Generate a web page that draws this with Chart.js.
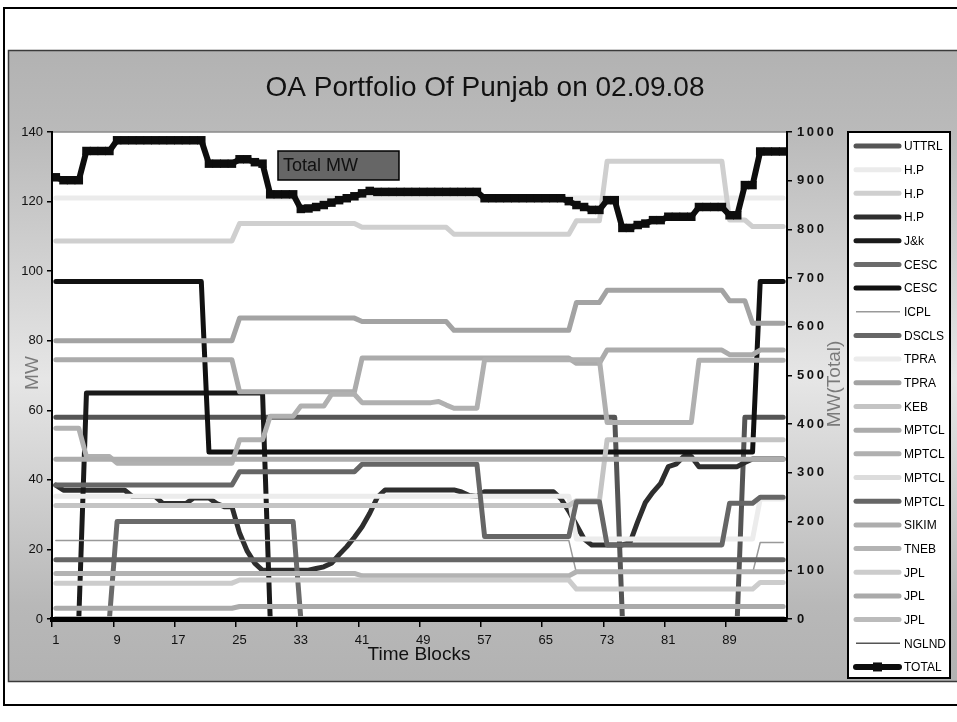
<!DOCTYPE html>
<html>
<head>
<meta charset="utf-8">
<title>OA Portfolio Of Punjab on 02.09.08</title>
<script src="https://cdn.jsdelivr.net/npm/chart.js@4.4.1/dist/chart.umd.min.js"></script>
<style>
  html, body { margin: 0; padding: 0; background: #fff; }
  canvas { display: block; }
</style>
</head>
<body>
<canvas id="grafico" width="957" height="722"></canvas>
<script>
// --- DADOS ---
const titulo = "OA Portfolio Of Punjab on 02.09.08";

const blocos = [
  1,2,3,4,5,6,7,8,9,10,11,12,
  13,14,15,16,17,18,19,20,21,22,23,24,
  25,26,27,28,29,30,31,32,33,34,35,36,
  37,38,39,40,41,42,43,44,45,46,47,48,
  49,50,51,52,53,54,55,56,57,58,59,60,
  61,62,63,64,65,66,67,68,69,70,71,72,
  73,74,75,76,77,78,79,80,81,82,83,84,
  85,86,87,88,89,90,91,92,93,94,95,96
];

const ticksMW = [0, 20, 40, 60, 80, 100, 120, 140];
const ticksTotal = [0, 100, 200, 300, 400, 500, 600, 700, 800, 900, 1000];

const uttrl = [
  58,58,58,58,58,58,58,58,58,58,58,58,
  58,58,58,58,58,58,58,58,58,58,58,58,
  58,58,58,58,58,58,58,58,58,58,58,58,
  58,58,58,58,58,58,58,58,58,58,58,58,
  58,58,58,58,58,58,58,58,58,58,58,58,
  58,58,58,58,58,58,58,58,58,58,58,58,
  58,58,0,0,0,0,0,0,0,0,0,0,
  0,0,0,0,0,0,58,58,58,58,58,58
];
const hp1 = [
  121,121,121,121,121,121,121,121,121,121,121,121,
  121,121,121,121,121,121,121,121,121,121,121,121,
  121,121,121,121,121,121,121,121,121,121,121,121,
  121,121,121,121,121,121,121,121,121,121,121,121,
  121,121,121,121,121,121,121,121,121,121,121,121,
  121,121,121,121,121,121,121,121,121,121,121,121,
  121,121,121,121,121,121,121,121,121,121,121,121,
  121,121,121,121,121,121,121,121,121,121,121,121
];
const hp2 = [
  108.7,108.7,108.7,108.7,108.7,108.7,108.7,108.7,108.7,108.7,108.7,108.7,
  108.7,108.7,108.7,108.7,108.7,108.7,108.7,108.7,108.7,108.7,108.7,108.7,
  113.7,113.7,113.7,113.7,113.7,113.7,113.7,113.7,113.7,113.7,113.7,113.7,
  113.7,113.7,113.7,113.7,112.6,112.6,112.6,112.6,112.6,112.6,112.6,112.6,
  112.6,112.6,112.6,112.6,110.6,110.6,110.6,110.6,110.6,110.6,110.6,110.6,
  110.6,110.6,110.6,110.6,110.6,110.6,110.6,110.6,114.5,114.5,114.5,114.5,
  131.6,131.6,131.6,131.6,131.6,131.6,131.6,131.6,131.6,131.6,131.6,131.6,
  131.6,131.6,131.6,131.6,114.7,114.7,114.7,112.8,112.8,112.8,112.8,112.8
];
const hp3 = [
  38.5,37,37,37,37,37,37,37,37,37,35.2,35.2,
  35.2,35.2,33.2,33.2,33.2,33.2,34.8,34.8,34.8,33.2,32.3,32.3,
  24.7,19.5,16,14,14,14,14,14,14,14,14.5,15,
  16,18.5,20.8,23.5,26.5,30.4,35,37.1,37.1,37.1,37.1,37.1,
  37.1,37.1,37.1,37.1,37.1,36.5,35.5,35.2,36.6,36.6,36.6,36.6,
  36.6,36.6,36.6,36.6,36.6,36.6,34.5,31,27,23,21.3,21.3,
  21.3,21.3,21.3,22,28,33.5,36.5,39,43.8,44.5,46.7,46.7,
  43.8,43.8,43.8,43.8,43.8,43.8,45,46,46,46,46,46
];
const jk = [
  0,0,0,0,65,65,65,65,65,65,65,65,
  65,65,65,65,65,65,65,65,65,65,65,65,
  65,65,65,65,0,0,0,0,0,0,0,0,
  0,0,0,0,0,0,0,0,0,0,0,0,
  0,0,0,0,0,0,0,0,0,0,0,0,
  0,0,0,0,0,0,0,0,0,0,0,0,
  0,0,0,0,0,0,0,0,0,0,0,0,
  0,0,0,0,0,0,0,0,0,0,0,0
];
const cesc1 = [
  0,0,0,0,0,0,0,0,28,28,28,28,
  28,28,28,28,28,28,28,28,28,28,28,28,
  28,28,28,28,28,28,28,28,0,0,0,0,
  0,0,0,0,0,0,0,0,0,0,0,0,
  0,0,0,0,0,0,0,0,0,0,0,0,
  0,0,0,0,0,0,0,0,0,0,0,0,
  0,0,0,0,0,0,0,0,0,0,0,0,
  0,0,0,0,0,0,0,0,0,0,0,0
];
const cesc2 = [
  97,97,97,97,97,97,97,97,97,97,97,97,
  97,97,97,97,97,97,97,97,48,48,48,48,
  48,48,48,48,48,48,48,48,48,48,48,48,
  48,48,48,48,48,48,48,48,48,48,48,48,
  48,48,48,48,48,48,48,48,48,48,48,48,
  48,48,48,48,48,48,48,48,48,48,48,48,
  48,48,48,48,48,48,48,48,48,48,48,48,
  48,48,48,48,48,48,48,48,97,97,97,97
];
const icpl = [
  22.6,22.6,22.6,22.6,22.6,22.6,22.6,22.6,22.6,22.6,22.6,22.6,
  22.6,22.6,22.6,22.6,22.6,22.6,22.6,22.6,22.6,22.6,22.6,22.6,
  22.6,22.6,22.6,22.6,22.6,22.6,22.6,22.6,22.6,22.6,22.6,22.6,
  22.6,22.6,22.6,22.6,22.6,22.6,22.6,22.6,22.6,22.6,22.6,22.6,
  22.6,22.6,22.6,22.6,22.6,22.6,22.6,22.6,22.6,22.6,22.6,22.6,
  22.6,22.6,22.6,22.6,22.6,22.6,22.6,22.6,13.2,13.2,13.2,13.2,
  13.2,13.2,13.2,13.2,13.2,13.2,13.2,13.2,13.2,13.2,13.2,13.2,
  13.2,13.2,13.2,13.2,13.2,13.2,13.2,13.2,22,22,22,22
];
const dscls = [
  17,17,17,17,17,17,17,17,17,17,17,17,
  17,17,17,17,17,17,17,17,17,17,17,17,
  17,17,17,17,17,17,17,17,17,17,17,17,
  17,17,17,17,17,17,17,17,17,17,17,17,
  17,17,17,17,17,17,17,17,17,17,17,17,
  17,17,17,17,17,17,17,17,17,17,17,17,
  17,17,17,17,17,17,17,17,17,17,17,17,
  17,17,17,17,17,17,17,17,17,17,17,17
];
const tpra1 = [
  35.3,35.3,35.3,35.3,35.3,35.3,35.3,35.3,35.3,35.3,35.3,35.3,
  35.3,35.3,35.3,35.3,35.3,35.3,35.3,35.3,35.3,35.3,35.3,35.3,
  35.3,35.3,35.3,35.3,35.3,35.3,35.3,35.3,35.3,35.3,35.3,35.3,
  35.3,35.3,35.3,35.3,35.3,35.3,35.3,35.3,35.3,35.3,35.3,35.3,
  35.3,35.3,35.3,35.3,35.3,35.3,35.3,35.3,35.3,35.3,35.3,35.3,
  35.3,35.3,35.3,35.3,35.3,35.3,35.3,35.3,23,23,23,23,
  23,23,23,23,23,23,23,23,23,23,23,23,
  23,23,23,23,23,23,23,23,34.5,34.5,34.5,34.5
];
const tpra2 = [
  80,80,80,80,80,80,80,80,80,80,80,80,
  80,80,80,80,80,80,80,80,80,80,80,80,
  86.5,86.5,86.5,86.5,86.5,86.5,86.5,86.5,86.5,86.5,86.5,86.5,
  86.5,86.5,86.5,86.5,85.5,85.5,85.5,85.5,85.5,85.5,85.5,85.5,
  85.5,85.5,85.5,85.5,83,83,83,83,83,83,83,83,
  83,83,83,83,83,83,83,83,91,91,91,91,
  94.5,94.5,94.5,94.5,94.5,94.5,94.5,94.5,94.5,94.5,94.5,94.5,
  94.5,94.5,94.5,94.5,91.5,91.5,91.5,85,85,85,85,85
];
const keb = [
  32.6,32.6,32.6,32.6,32.6,32.6,32.6,32.6,32.6,32.6,32.6,32.6,
  32.6,32.6,32.6,32.6,32.6,32.6,32.6,32.6,32.6,32.6,32.6,32.6,
  32.6,32.6,32.6,32.6,32.6,32.6,32.6,32.6,32.6,32.6,32.6,32.6,
  32.6,32.6,32.6,32.6,32.6,32.6,32.6,32.6,32.6,32.6,32.6,32.6,
  32.6,32.6,32.6,32.6,32.6,32.6,32.6,32.6,32.6,32.6,32.6,32.6,
  32.6,32.6,32.6,32.6,32.6,32.6,32.6,32.6,34,34,34,34,
  51.5,51.5,51.5,51.5,51.5,51.5,51.5,51.5,51.5,51.5,51.5,51.5,
  51.5,51.5,51.5,51.5,51.5,51.5,51.5,51.5,51.5,51.5,51.5,51.5
];
const mptcl1 = [
  74.5,74.5,74.5,74.5,74.5,74.5,74.5,74.5,74.5,74.5,74.5,74.5,
  74.5,74.5,74.5,74.5,74.5,74.5,74.5,74.5,74.5,74.5,74.5,74.5,
  65.3,65.3,65.3,65.3,65.3,65.3,65.3,65.3,65.3,65.3,65.3,65.3,
  65.3,65.3,65.3,65.3,75,75,75,75,75,75,75,75,
  75,75,75,75,75,75,75,75,75,75,75,75,
  75,75,75,75,75,75,75,75,73.5,73.5,73.5,73.5,
  77.3,77.3,77.3,77.3,77.3,77.3,77.3,77.3,77.3,77.3,77.3,77.3,
  77.3,77.3,77.3,77.3,76,76,76,76,77.3,77.3,77.3,77.3
];
const mptcl2 = [
  54.8,54.8,54.8,54.8,46.7,46.7,46.7,46.7,44.8,44.8,44.8,44.8,
  44.8,44.8,44.8,44.8,44.8,44.8,44.8,44.8,44.8,44.8,44.8,44.8,
  51.5,51.5,51.5,51.5,58.3,58.3,58.3,58.3,61.2,61.2,61.2,61.2,
  64.6,64.6,64.6,64.6,62.2,62.2,62.2,62.2,62.2,62.2,62.2,62.2,
  62.2,62.2,62.5,61.5,60.6,60.6,60.6,60.6,74.5,74.5,74.5,74.5,
  74.5,74.5,74.5,74.5,74.5,74.5,74.5,74.5,74.5,74.5,74.5,74.5,
  56.5,56.5,56.5,56.5,56.5,56.5,56.5,56.5,56.5,56.5,56.5,56.5,
  74.4,74.4,74.4,74.4,74.4,74.4,74.4,74.4,74.4,74.4,74.4,74.4
];
const mptcl3 = [
  0,0,0,0,0,0,0,0,0,0,0,0,
  0,0,0,0,0,0,0,0,0,0,0,0,
  0,0,0,0,0,0,0,0,0,0,0,0,
  0,0,0,0,0,0,0,0,0,0,0,0,
  0,0,0,0,0,0,0,0,0,0,0,0,
  0,0,0,0,0,0,0,0,0,0,0,0,
  0,0,0,0,0,0,0,0,0,0,0,0,
  0,0,0,0,0,0,0,0,0,0,0,0
];
const mptcl4 = [
  38.5,38.5,38.5,38.5,38.5,38.5,38.5,38.5,38.5,38.5,38.5,38.5,
  38.5,38.5,38.5,38.5,38.5,38.5,38.5,38.5,38.5,38.5,38.5,38.5,
  42.3,42.3,42.3,42.3,42.3,42.3,42.3,42.3,42.3,42.3,42.3,42.3,
  42.3,42.3,42.3,42.3,44.5,44.5,44.5,44.5,44.5,44.5,44.5,44.5,
  44.5,44.5,44.5,44.5,44.5,44.5,44.5,44.5,23.7,23.7,23.7,23.7,
  23.7,23.7,23.7,23.7,23.7,23.7,23.7,23.7,33.7,33.7,33.7,33.7,
  21.3,21.3,21.3,21.3,21.3,21.3,21.3,21.3,21.3,21.3,21.3,21.3,
  21.3,21.3,21.3,21.3,33.3,33.3,33.3,33.3,35,35,35,35
];
const sikim = [
  45.9,45.9,45.9,45.9,45.9,45.9,45.9,45.9,45.9,45.9,45.9,45.9,
  45.9,45.9,45.9,45.9,45.9,45.9,45.9,45.9,45.9,45.9,45.9,45.9,
  45.9,45.9,45.9,45.9,45.9,45.9,45.9,45.9,45.9,45.9,45.9,45.9,
  45.9,45.9,45.9,45.9,45.9,45.9,45.9,45.9,45.9,45.9,45.9,45.9,
  45.9,45.9,45.9,45.9,45.9,45.9,45.9,45.9,45.9,45.9,45.9,45.9,
  45.9,45.9,45.9,45.9,45.9,45.9,45.9,45.9,45.9,45.9,45.9,45.9,
  45.9,45.9,45.9,45.9,45.9,45.9,45.9,45.9,45.9,45.9,45.9,45.9,
  45.9,45.9,45.9,45.9,45.9,45.9,45.9,45.9,45.9,45.9,45.9,45.9
];
const tneb = [
  13.1,13.1,13.1,13.1,13.1,13.1,13.1,13.1,13.1,13.1,13.1,13.1,
  13.1,13.1,13.1,13.1,13.1,13.1,13.1,13.1,13.1,13.1,13.1,13.1,
  13.1,13.1,13.1,13.1,13.1,13.1,13.1,13.1,13.1,13.1,13.1,13.1,
  13.1,13.1,13.1,13.1,12.4,12.4,12.4,12.4,12.4,12.4,12.4,12.4,
  12.4,12.4,12.4,12.4,12.4,12.4,12.4,12.4,12.4,12.4,12.4,12.4,
  12.4,12.4,12.4,12.4,12.4,12.4,12.4,12.4,13.6,13.6,13.6,13.6,
  13.6,13.6,13.6,13.6,13.6,13.6,13.6,13.6,13.6,13.6,13.6,13.6,
  13.6,13.6,13.6,13.6,13.6,13.6,13.6,13.6,13.6,13.6,13.6,13.6
];
const jpl1 = [
  10.3,10.3,10.3,10.3,10.3,10.3,10.3,10.3,10.3,10.3,10.3,10.3,
  10.3,10.3,10.3,10.3,10.3,10.3,10.3,10.3,10.3,10.3,10.3,10.3,
  11.2,11.2,11.2,11.2,11.2,11.2,11.2,11.2,11.2,11.2,11.2,11.2,
  11.2,11.2,11.2,11.2,11.2,11.2,11.2,11.2,11.2,11.2,11.2,11.2,
  11.2,11.2,11.2,11.2,11.2,11.2,11.2,11.2,11.2,11.2,11.2,11.2,
  11.2,11.2,11.2,11.2,11.2,11.2,11.2,11.2,8.6,8.6,8.6,8.6,
  8.6,8.6,8.6,8.6,8.6,8.6,8.6,8.6,8.6,8.6,8.6,8.6,
  8.6,8.6,8.6,8.6,8.6,8.6,8.6,8.6,10.5,10.5,10.5,10.5
];
const jpl2 = [
  3.1,3.1,3.1,3.1,3.1,3.1,3.1,3.1,3.1,3.1,3.1,3.1,
  3.1,3.1,3.1,3.1,3.1,3.1,3.1,3.1,3.1,3.1,3.1,3.1,
  3.6,3.6,3.6,3.6,3.6,3.6,3.6,3.6,3.6,3.6,3.6,3.6,
  3.6,3.6,3.6,3.6,3.6,3.6,3.6,3.6,3.6,3.6,3.6,3.6,
  3.6,3.6,3.6,3.6,3.6,3.6,3.6,3.6,3.6,3.6,3.6,3.6,
  3.6,3.6,3.6,3.6,3.6,3.6,3.6,3.6,3.6,3.6,3.6,3.6,
  3.6,3.6,3.6,3.6,3.6,3.6,3.6,3.6,3.6,3.6,3.6,3.6,
  3.6,3.6,3.6,3.6,3.6,3.6,3.6,3.6,3.6,3.6,3.6,3.6
];
const jpl3 = [
  0,0,0,0,0,0,0,0,0,0,0,0,
  0,0,0,0,0,0,0,0,0,0,0,0,
  0,0,0,0,0,0,0,0,0,0,0,0,
  0,0,0,0,0,0,0,0,0,0,0,0,
  0,0,0,0,0,0,0,0,0,0,0,0,
  0,0,0,0,0,0,0,0,0,0,0,0,
  0,0,0,0,0,0,0,0,0,0,0,0,
  0,0,0,0,0,0,0,0,0,0,0,0
];
const ngland = [
  0,0,0,0,0,0,0,0,0,0,0,0,
  0,0,0,0,0,0,0,0,0,0,0,0,
  0,0,0,0,0,0,0,0,0,0,0,0,
  0,0,0,0,0,0,0,0,0,0,0,0,
  0,0,0,0,0,0,0,0,0,0,0,0,
  0,0,0,0,0,0,0,0,0,0,0,0,
  0,0,0,0,0,0,0,0,0,0,0,0,
  0,0,0,0,0,0,0,0,0,0,0,0
];
// total on the right axis
const total = [
  907,901,901,901,961,961,961,961,983,983,983,983,
  983,983,983,983,983,983,983,983,935,935,935,935,
  944,944,938,935,872,872,872,872,842,843,846,850,
  855,860,864,868,874,879,877,877,877,877,877,877,
  877,877,877,877,877,877,877,877,864,864,864,864,
  864,864,864,864,864,864,864,858,850,846,840,840,
  860,860,803,803,809,812,819,819,826,826,826,826,
  846,846,846,846,829,829,891,891,960,960,960,960
];

// --- SERIES (label, data, style) ---
const series = [
  { label: "UTTRL", data: uttrl, cor: "#555555", w: 5 },
  { label: "H.P", data: hp1, cor: "#ebebeb", w: 5 },
  { label: "H.P", data: hp2, cor: "#cfcfcf", w: 5 },
  { label: "H.P", data: hp3, cor: "#2e2e2e", w: 5 },
  { label: "J&k", data: jk, cor: "#1a1a1a", w: 5 },
  { label: "CESC", data: cesc1, cor: "#6b6b6b", w: 5 },
  { label: "CESC", data: cesc2, cor: "#111111", w: 5 },
  { label: "ICPL", data: icpl, cor: "#999999", w: 1.5 },
  { label: "DSCLS", data: dscls, cor: "#666666", w: 5 },
  { label: "TPRA", data: tpra1, cor: "#ececec", w: 5 },
  { label: "TPRA", data: tpra2, cor: "#a3a3a3", w: 5 },
  { label: "KEB", data: keb, cor: "#c4c4c4", w: 5 },
  { label: "MPTCL", data: mptcl1, cor: "#ababab", w: 5 },
  { label: "MPTCL", data: mptcl2, cor: "#b0b0b0", w: 5 },
  { label: "MPTCL", data: mptcl3, cor: "#dcdcdc", w: 5 },
  { label: "MPTCL", data: mptcl4, cor: "#666666", w: 5 },
  { label: "SIKIM", data: sikim, cor: "#adadad", w: 5 },
  { label: "TNEB", data: tneb, cor: "#b3b3b3", w: 5 },
  { label: "JPL", data: jpl1, cor: "#cccccc", w: 5 },
  { label: "JPL", data: jpl2, cor: "#aaaaaa", w: 5 },
  { label: "JPL", data: jpl3, cor: "#bbbbbb", w: 5 },
  { label: "NGLND", data: ngland, cor: "#555555", w: 1.5 },
  { label: "TOTAL", data: total, cor: "#0d0d0d", w: 6, eixo: "y1" }
];

const FONTE = '"Liberation Sans", Arial, sans-serif';
Chart.defaults.font.family = FONTE;
Chart.defaults.color = "#111";

// gradient of the gray chart background
function gradiente(ctx) {
  const g = ctx.createLinearGradient(0, 50, 0, 682);
  g.addColorStop(0, "#b2b2b2");
  g.addColorStop(0.13, "#bababa");
  g.addColorStop(0.52, "#e6e6e6");
  g.addColorStop(0.88, "#b8b8b8");
  g.addColorStop(1, "#b2b2b2");
  return g;
}

// --- BACKGROUND ---
const fundoPlugin = {
  id: "fundo",
  beforeDraw(chart) {
    const { ctx, chartArea: a } = chart;
    ctx.save();
    ctx.fillStyle = "#fff";
    ctx.fillRect(0, 0, chart.width, chart.height);

    ctx.strokeStyle = "#000";
    ctx.lineWidth = 2;
    ctx.strokeRect(4, 8, 980, 697);

    ctx.fillStyle = gradiente(ctx);
    ctx.fillRect(8, 50, 960, 632);
    ctx.strokeStyle = "#3a3a3a";
    ctx.lineWidth = 1.5;
    ctx.strokeRect(8.5, 50.5, 980, 631);

    ctx.fillStyle = "#fff";
    ctx.fillRect(a.left, a.top, a.right - a.left, a.bottom - a.top);
    ctx.strokeStyle = "#8a8a8a";
    ctx.beginPath();
    ctx.moveTo(a.left, a.top);
    ctx.lineTo(a.right, a.top);
    ctx.stroke();
    ctx.restore();
  }
};

// --- TEXTS AND LEGEND ---
const textosPlugin = {
  id: "textos",
  afterDraw(chart) {
    const ctx = chart.ctx;
    ctx.save();

    // title
    ctx.fillStyle = "#111";
    ctx.font = "28px " + FONTE;
    ctx.textAlign = "center";
    ctx.textBaseline = "middle";
    ctx.fillText(titulo, 485, 88);

    // x axis title
    ctx.font = "19px " + FONTE;
    ctx.fillText("Time Blocks", 419, 655);

    // left axis title
    ctx.fillStyle = "#7a7a7a";
    ctx.save();
    ctx.translate(33, 373);
    ctx.rotate(-Math.PI / 2);
    ctx.fillText("MW", 0, 0);
    ctx.restore();

    // right axis title, with its own background over the tick labels
    ctx.fillStyle = gradiente(ctx);
    ctx.fillRect(825, 328, 22, 116);
    ctx.fillStyle = "#7a7a7a";
    ctx.save();
    ctx.translate(835, 384);
    ctx.rotate(-Math.PI / 2);
    ctx.fillText("MW(Total)", 0, 0);
    ctx.restore();

    // "Total MW" text box
    ctx.fillStyle = "#666";
    ctx.fillRect(278, 151, 121, 29);
    ctx.strokeStyle = "#000";
    ctx.lineWidth = 1.5;
    ctx.strokeRect(278, 151, 121, 29);
    ctx.fillStyle = "#111";
    ctx.font = "18px " + FONTE;
    ctx.textAlign = "left";
    ctx.fillText("Total MW", 283, 166);

    // legend
    const box = { x: 848, y: 132, w: 102, h: 546 };
    ctx.fillStyle = "#fff";
    ctx.fillRect(box.x, box.y, box.w, box.h);
    ctx.strokeStyle = "#000";
    ctx.lineWidth = 2;
    ctx.strokeRect(box.x, box.y, box.w, box.h);

    const passo = 23.68;
    ctx.font = "12px " + FONTE;
    ctx.textBaseline = "middle";
    chart.data.datasets.forEach((ds, i) => {
      const y = box.y + 14 + i * passo;
      const fino = ds.borderWidth < 3;
      ctx.strokeStyle = ds.borderColor;
      ctx.lineWidth = ds.borderWidth;
      ctx.lineCap = fino ? "butt" : "round";
      ctx.beginPath();
      ctx.moveTo(fino ? 856 : 856, y);
      ctx.lineTo(fino ? 900 : 899, y);
      ctx.stroke();
      if (ds.pointStyle === "rect") {
        ctx.fillStyle = ds.borderColor;
        ctx.fillRect(873, y - 4.5, 9, 9);
      }
      ctx.fillStyle = "#000";
      ctx.fillText(ds.label, 904, y + 1);
    });
    ctx.restore();
  }
};

const datasets = series.map((s, i) => {
  const ds = {
    label: s.label,
    data: s.data,
    borderColor: s.cor,
    backgroundColor: s.cor,
    borderWidth: s.w,
    pointRadius: 0,
    tension: 0,
    borderJoinStyle: "round",
    borderCapStyle: "round",
    yAxisID: s.eixo || "y",
    order: series.length - i
  };
  if (s.eixo === "y1") {
    ds.pointStyle = "rect";
    ds.pointRadius = 6;
    ds.pointBackgroundColor = s.cor;
    ds.pointBorderWidth = 0;
  }
  return ds;
});

new Chart(document.getElementById("grafico"), {
  type: "line",
  data: { labels: blocos, datasets },
  options: {
    responsive: false,
    animation: false,
    devicePixelRatio: 1,
    events: [],
    layout: { padding: { left: 0, top: 132, right: 120, bottom: 63 } },
    plugins: {
      legend: { display: false },
      title: { display: false },
      tooltip: { enabled: false }
    },
    scales: {
      x: {
        type: "category",
        offset: true,
        afterFit: (s) => { s.height = 40; },
        grid: {
          offset: true,
          drawOnChartArea: false,
          tickLength: 8,
          lineWidth: 1.5,
          color: (c) => (c.index % 8 === 0 ? "#000" : "rgba(0,0,0,0)")
        },
        border: { color: "#000", width: 5, z: 1 },
        ticks: {
          autoSkip: false,
          maxRotation: 0,
          padding: 6,
          font: { size: 13 },
          color: "#111",
          callback: function (v, i) { return i % 8 === 0 ? this.getLabelForValue(v) : ""; }
        }
      },
      y: {
        position: "left",
        min: 0,
        max: 140,
        afterFit: (s) => { s.width = 52; },
        afterBuildTicks: (s) => { s.ticks = ticksMW.map((v) => ({ value: v })); },
        grid: { drawOnChartArea: false, tickLength: 5, color: "#000", lineWidth: 1.5 },
        border: { color: "#000", width: 2, z: 1 },
        ticks: { padding: 4, font: { size: 13 }, color: "#111" }
      },
      y1: {
        position: "right",
        min: 0,
        max: 1000,
        afterFit: (s) => { s.width = 50; },
        afterBuildTicks: (s) => { s.ticks = ticksTotal.map((v) => ({ value: v })); },
        grid: { drawOnChartArea: false, tickLength: 5, color: "#000", lineWidth: 1.5 },
        border: { color: "#000", width: 2, z: 1 },
        ticks: {
          padding: 5,
          font: { size: 13, weight: "bold" },
          color: "#111",
          callback: (v) => String(v).split("").join("\u2009")
        }
      }
    }
  },
  plugins: [fundoPlugin, textosPlugin]
});
</script>
</body>
</html>
